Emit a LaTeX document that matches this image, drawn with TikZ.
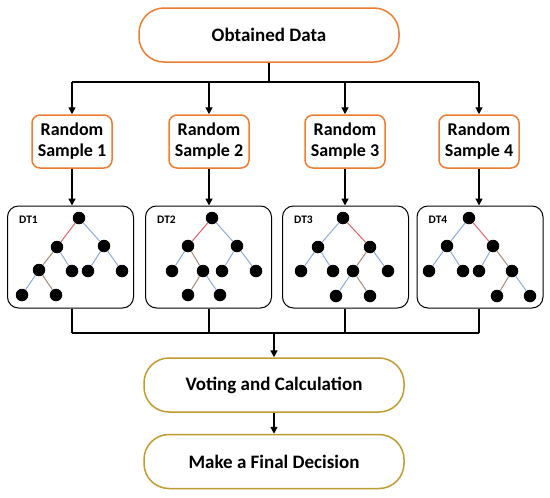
\documentclass[tikz,border=0pt]{standalone}
\usepackage{fontspec}
\setmainfont{Carlito}
\usepackage{xcolor}
\usetikzlibrary{positioning,arrows.meta,calc}
\definecolor{boxorange}{HTML}{ED7D31}
\definecolor{boxgold}{HTML}{BF9B30}
\definecolor{edgered}{HTML}{E5606B}
\definecolor{edgeblue}{HTML}{8EA9DB}
\definecolor{edgebrown}{HTML}{A48A78}

\begin{document}
\begin{tikzpicture}[x=1pt,y=-1pt,
  pill/.style={draw=boxorange,line width=1.5pt,rounded corners=25pt,minimum width=260pt,minimum height=54pt,inner sep=0pt,font=\fontsize{19}{22}\selectfont\bfseries},
  goldpill/.style={pill,draw=boxgold},
  samplebox/.style={draw=boxorange,line width=1.5pt,rounded corners=8pt,minimum width=80pt,minimum height=53pt,inner sep=0pt,align=center,font=\fontsize{18}{21}\selectfont\bfseries},
  treebox/.style={draw=black,line width=1pt,rounded corners=11pt,minimum width=126pt,minimum height=102pt,inner sep=0pt},
  dtlabel/.style={anchor=north west,inner sep=0pt,font=\fontsize{11.5}{12}\selectfont\bfseries},
  dot/.style={circle,fill=black,minimum size=12.5pt,inner sep=0pt},
  conn/.style={line width=1.4pt},
  arr/.style={conn,-{Triangle[length=7pt,width=7pt]}},
  red/.style={draw=edgered,line width=1pt},
  blue/.style={draw=edgeblue,line width=1pt},
  brown/.style={draw=edgebrown,line width=1pt}
]
  \useasboundingbox (0,0) rectangle (550,498);

  \node[pill] (data) at (269,35) {Obtained Data};

  % samples and trees: index, sample x, tree box x
  \foreach \k/\sx/\tx in {1/72/70.5, 2/209/208.5, 3/345/345.5, 4/479/480}{
    \node[samplebox] (s\k) at (\sx,141.5) {Random\\Sample \k};
    \node[treebox] (t\k) at (\tx,257) {};
    \node[dtlabel] (dt\k) at ($(t\k.north west)+(12,10)$) {DT\k};
  }

  \node[goldpill] (vote) at (274,385) {Voting and Calculation};
  \node[goldpill] (final) at (274,461.5) {Make a Final Decision};

  % tree 1
  \foreach \n/\x/\y in {r/79/218, a/57/247, b/104/246, aa/39/270, ab/72/271, ba/88/271, bb/122/271, aaa/22/295, aab/56/295}
    \node[dot] (t1\n) at (\x,\y) {};
  \foreach \u/\v/\c in {r/a/red, r/b/blue, a/aa/brown, a/ab/blue, b/ba/blue, b/bb/blue, aa/aaa/blue, aa/aab/brown}
    \draw[\c] (t1\u) -- (t1\v);

  % tree 2
  \foreach \n/\x/\y in {r/212/218, a/188/246, b/237/246, aa/172/271, ab/203/271, ba/222/271, bb/256/271, aba/188/295, abb/220/295}
    \node[dot] (t2\n) at (\x,\y) {};
  \foreach \u/\v/\c in {r/a/red, r/b/blue, a/aa/blue, a/ab/brown, b/ba/blue, b/bb/blue, ab/aba/brown, ab/abb/blue}
    \draw[\c] (t2\u) -- (t2\v);

  % tree 3
  \foreach \n/\x/\y in {r/343/218, a/318/247, b/370/247, aa/301/271, ab/333/271, ba/353/271, bb/388/271, baa/336/296, bab/370/296}
    \node[dot] (t3\n) at (\x,\y) {};
  \foreach \u/\v/\c in {r/a/blue, r/b/red, a/aa/blue, a/ab/blue, b/ba/brown, b/bb/blue, ba/baa/blue, ba/bab/brown}
    \draw[\c] (t3\u) -- (t3\v);

  % tree 4
  \foreach \n/\x/\y in {r/469/218, a/447/246, b/493/246, aa/429/271, ab/463/271, ba/479/271, bb/512/271, bba/497/296, bbb/530/296}
    \node[dot] (t4\n) at (\x,\y) {};
  \foreach \u/\v/\c in {r/a/blue, r/b/red, a/aa/blue, a/ab/blue, b/ba/blue, b/bb/brown, bb/bba/brown, bb/bbb/blue}
    \draw[\c] (t4\u) -- (t4\v);

  % split from the data
  \coordinate (split) at (data.south |- 0,82);
  \draw[conn] (data.south) -- (split);
  \draw[conn] (split -| s1.north) -- (split -| s4.north);
  \foreach \k in {1,...,4}{
    \draw[arr] (split -| s\k.north) -- (s\k.north);
    \draw[arr] (s\k.south) -- (s\k.south |- t\k.north);
  }

  % merge into the vote
  \coordinate (merge) at (vote.north |- 0,333);
  \foreach \k in {1,...,4}
    \draw[conn] (t\k.south -| s\k.south) -- (merge -| s\k.south);
  \draw[conn] (merge -| s1.south) -- (merge -| s4.south);
  \draw[arr] (merge) -- (vote.north);
  \draw[arr] (vote.south) -- (final.north);
\end{tikzpicture}
\end{document}
